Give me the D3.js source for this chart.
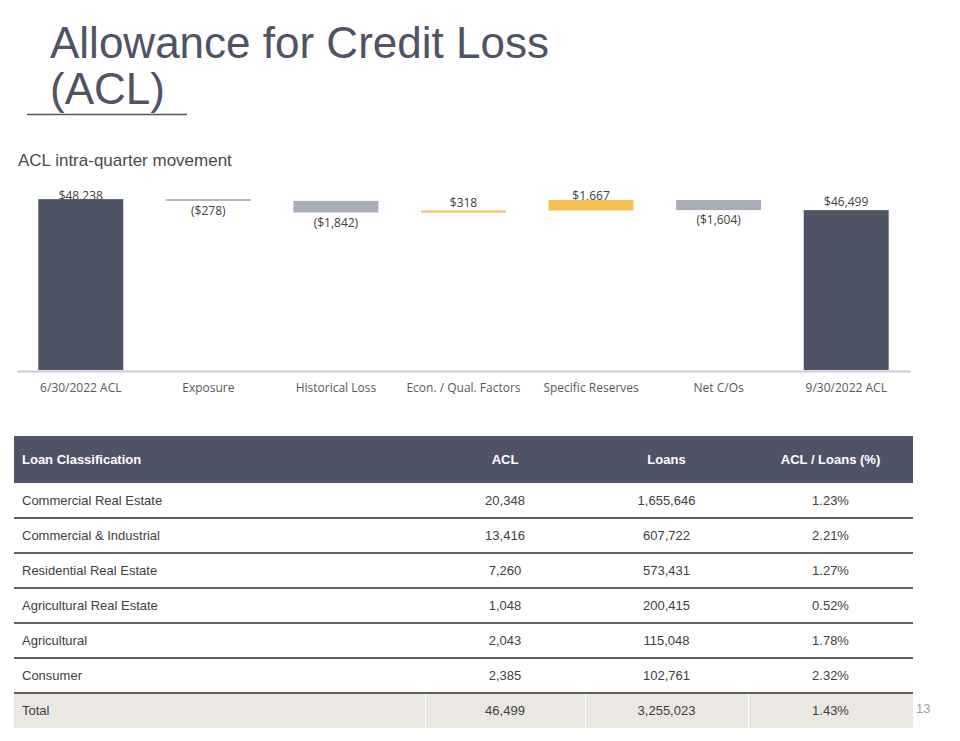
<!DOCTYPE html>
<html>
<head>
<meta charset="utf-8">
<script src="https://cdn.jsdelivr.net/npm/d3@7"></script>
<style>
  body { margin: 0; background: #fff; }
  svg { display: block; }
</style>
</head>
<body>
<svg id="slide" width="960" height="741"></svg>
<script>
// waterfall steps
const steps = ["6/30/2022 ACL", "Exposure", "Historical Loss", "Econ. / Qual. Factors", "Specific Reserves", "Net C/Os", "9/30/2022 ACL"];
const stepValues = [48238, -278, -1842, 318, 1667, -1604, 46499];
const stepKinds = ["total", "delta", "delta", "delta", "delta", "delta", "total"];

// table
const tableHeaders = ["Loan Classification", "ACL", "Loans", "ACL / Loans (%)"];
const loanClasses = ["Commercial Real Estate", "Commercial & Industrial", "Residential Real Estate", "Agricultural Real Estate", "Agricultural", "Consumer"];
const aclValues = [20348, 13416, 7260, 1048, 2043, 2385];
const loanValues = [1655646, 607722, 573431, 200415, 115048, 102761];
const ratioValues = [1.23, 2.21, 1.27, 0.52, 1.78, 2.32];
const totalRow = ["Total", 46499, 3255023, 1.43];

const svg = d3.select("#slide");
const fmt = d3.format(",");

//title
svg.append("text").attr("x", 50).attr("y", 58)
    .attr("font-family", "Liberation Sans, Arial, sans-serif").attr("font-size", 44).attr("fill", "#4f5363")
    .text("Allowance for Credit Loss");
svg.append("text").attr("x", 50).attr("y", 104)
    .attr("font-family", "Liberation Sans, Arial, sans-serif").attr("font-size", 44).attr("fill", "#4f5363")
    .text("(ACL)");
svg.append("line").attr("x1", 27).attr("x2", 187).attr("y1", 114.5).attr("y2", 114.5)
    .attr("stroke", "#4f5363").attr("stroke-width", 1.5);

svg.append("text").attr("x", 18).attr("y", 166)
    .attr("font-family", "Liberation Sans, Arial, sans-serif").attr("font-size", 17).attr("fill", "#4a4a4a")
    .text("ACL intra-quarter movement");

// build waterfall running totals
let rows = [];
let running = 0;
for (let i = 0; i < steps.length; i++) {
    let v = stepValues[i];
    if (stepKinds[i] === "total") {
        rows.push({name: steps[i], v: v, start: null, end: v, kind: "total"});
        running = v;
    } else {
        rows.push({name: steps[i], v: v, start: running, end: running + v, kind: v < 0 ? "down" : "up"});
        running = running + v;
    }
}

const x = d3.scaleBand().domain(steps).range([17, 910]).paddingInner(0.334).paddingOuter(0.167);
// value axis does not start at zero in the original
const y = d3.scaleLinear().domain([21200, 50000]).range([370, 188]);
const colors = {total: "#4f5366", down: "#a9acb9", up: "#f6bf52"};

const money = v => v < 0 ? "($" + fmt(-v) + ")" : "$" + fmt(v);

// labels first so bars sit over them like the original
let chart = svg.append("g");
rows.forEach(d => {
    let lo = d.kind === "total" ? y.domain()[0] : Math.min(d.start, d.end);
    let hi = d.kind === "total" ? d.end : Math.max(d.start, d.end);
    let top = y(hi), bottom = y(lo);
    let ty = d.kind === "down" ? bottom + 14 : Math.max(top - 4, 200);
    chart.append("text")
        .attr("x", x(d.name) + x.bandwidth() / 2).attr("y", ty)
        .attr("text-anchor", "middle")
        .attr("font-family", "Open Sans, sans-serif").attr("font-size", 12).attr("fill", "#404040")
        .text(money(d.v));
});

// axis line
let xAxis = d3.axisBottom(x).tickSize(0).tickPadding(12);
let axisG = svg.append("g").attr("transform", "translate(0,371)").call(xAxis);
axisG.select(".domain").attr("stroke", "#cacad3").attr("stroke-width", 2);
axisG.selectAll("text").attr("font-family", "Open Sans, sans-serif").attr("font-size", 12).attr("fill", "#595959");

chart.selectAll("rect.bar").data(rows).enter().append("rect")
    .attr("class", "bar")
    .attr("x", d => x(d.name))
    .attr("width", x.bandwidth())
    .attr("y", d => d.kind === "total" ? y(d.end) : y(Math.max(d.start, d.end)))
    .attr("height", d => {
        if (d.kind === "total") return y(y.domain()[0]) - y(d.end);
        return Math.max(1, Math.abs(y(d.start) - y(d.end)));
    })
    .attr("fill", d => colors[d.kind]);

// table
const tLeft = 14, tRight = 913, headTop = 436, headH = 47, rowH = 35;
const colEdges = [tLeft, 425, 585, 748, tRight];
const allRows = loanClasses.map((c, i) => [c, fmt(aclValues[i]), fmt(loanValues[i]), ratioValues[i].toFixed(2) + "%"]);
allRows.push([totalRow[0], fmt(totalRow[1]), fmt(totalRow[2]), totalRow[3].toFixed(2) + "%"]);

const rowY = d3.scaleBand().domain(d3.range(allRows.length)).range([headTop + headH, headTop + headH + rowH * allRows.length]);

let table = svg.append("g");
table.append("rect").attr("x", tLeft).attr("y", headTop).attr("width", tRight - tLeft).attr("height", headH).attr("fill", "#4f5366");
tableHeaders.forEach((h, j) => {
    table.append("text")
        .attr("x", j === 0 ? tLeft + 8 : (colEdges[j] + colEdges[j + 1]) / 2)
        .attr("y", headTop + 28)
        .attr("text-anchor", j === 0 ? "start" : "middle")
        .attr("font-family", "Liberation Sans, Arial, sans-serif").attr("font-size", 13).attr("font-weight", "bold")
        .attr("fill", "#ffffff")
        .text(h);
});

allRows.forEach((r, i) => {
    let ry = rowY(i);
    let isTotal = i === allRows.length - 1;
    if (isTotal) {
        for (let j = 0; j < 4; j++) {
            table.append("rect").attr("x", colEdges[j] + (j ? 1 : 0)).attr("y", ry + 1)
                .attr("width", colEdges[j + 1] - colEdges[j] - (j ? 1 : 0)).attr("height", rowH - 1)
                .attr("fill", "#ebe8e3");
        }
    }
    r.forEach((cell, j) => {
        table.append("text")
            .attr("x", j === 0 ? tLeft + 8 : (colEdges[j] + colEdges[j + 1]) / 2)
            .attr("y", ry + 22)
            .attr("text-anchor", j === 0 ? "start" : "middle")
            .attr("font-family", "Liberation Sans, Arial, sans-serif").attr("font-size", 13)
            .attr("fill", "#404040")
            .text(cell);
    });
    if (!isTotal) {
        table.append("line").attr("x1", tLeft).attr("x2", tRight)
            .attr("y1", ry + rowH).attr("y2", ry + rowH)
            .attr("stroke", "#2b2b2b").attr("stroke-width", 1.5);
    }
});

// page number
svg.append("text").attr("x", 916).attr("y", 713)
    .attr("font-family", "Liberation Sans, Arial, sans-serif").attr("font-size", 13).attr("fill", "#a0a0a0")
    .text("13");
</script>
</body>
</html>
